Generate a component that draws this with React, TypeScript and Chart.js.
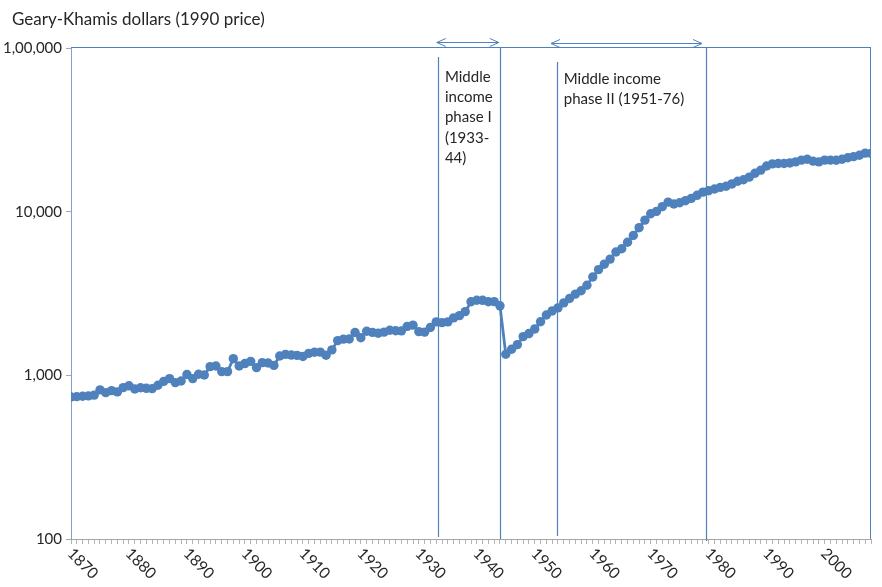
import React, { useEffect, useRef } from 'react';
import { Chart, registerables } from 'chart.js';

Chart.register(...registerables);

const years: number[] = [
  1870, 1871, 1872, 1873, 1874, 1875, 1876, 1877, 1878, 1879,
  1880, 1881, 1882, 1883, 1884, 1885, 1886, 1887, 1888, 1889,
  1890, 1891, 1892, 1893, 1894, 1895, 1896, 1897, 1898, 1899,
  1900, 1901, 1902, 1903, 1904, 1905, 1906, 1907, 1908, 1909,
  1910, 1911, 1912, 1913, 1914, 1915, 1916, 1917, 1918, 1919,
  1920, 1921, 1922, 1923, 1924, 1925, 1926, 1927, 1928, 1929,
  1930, 1931, 1932, 1933, 1934, 1935, 1936, 1937, 1938, 1939,
  1940, 1941, 1942, 1943, 1944, 1945, 1946, 1947, 1948, 1949,
  1950, 1951, 1952, 1953, 1954, 1955, 1956, 1957, 1958, 1959,
  1960, 1961, 1962, 1963, 1964, 1965, 1966, 1967, 1968, 1969,
  1970, 1971, 1972, 1973, 1974, 1975, 1976, 1977, 1978, 1979,
  1980, 1981, 1982, 1983, 1984, 1985, 1986, 1987, 1988, 1989,
  1990, 1991, 1992, 1993, 1994, 1995, 1996, 1997, 1998, 1999,
  2000, 2001, 2002, 2003, 2004, 2005, 2006, 2007, 2008,
];

const gdpPerCapita: number[] = [
  737, 741, 745, 749, 757, 815, 784, 806, 792, 841,
  863, 825, 840, 833, 830, 870, 919, 955, 903, 924,
  1012, 955, 1015, 1005, 1130, 1140, 1054, 1054, 1264, 1140,
  1180, 1217, 1115, 1195, 1190, 1150, 1312, 1343, 1330, 1325,
  1304, 1362, 1384, 1387, 1327, 1430, 1630, 1665, 1668, 1827,
  1696, 1860, 1831, 1809, 1836, 1885, 1872, 1870, 1992, 2026,
  1850, 1837, 1962, 2122, 2098, 2120, 2244, 2315, 2449, 2816,
  2874, 2873, 2818, 2822, 2659, 1346, 1444, 1541, 1725, 1800,
  1921, 2126, 2336, 2474, 2582, 2771, 2948, 3136, 3289, 3554,
  3986, 4426, 4777, 5129, 5668, 5934, 6506, 7152, 7983, 8874,
  9714, 10040, 10734, 11434, 11145, 11344, 11669, 12064, 12585, 13163,
  13428, 13754, 14078, 14307, 14773, 15331, 15679, 16251, 17185, 17943,
  19000, 19600, 19700, 19700, 19850, 20150, 20650, 20900, 20350, 20150,
  20650, 20650, 20600, 20900, 21350, 21700, 22100, 22800, 22700,
];

const xLabelYears: number[] = [1870, 1880, 1890, 1900, 1910, 1920, 1930, 1940, 1950, 1960, 1970, 1980, 1990, 2000];
const xLabelTexts: string[] = ['1870', '1880', '1890', '1900', '1910', '1920', '1930', '1940', '1950', '1960', '1970', '1980', '1990', '2000'];

const yTickValues: number[] = [100, 1000, 10000, 100000];
const yTickLabels: string[] = ['100', '1,000', '10,000', '1,00,000'];

const yAxisTitle = 'Geary-Khamis dollars (1990 price)';
const phaseOneText: string[] = ['Middle', 'income', 'phase I', '(1933-', '44)'];
const phaseTwoText: string[] = ['Middle income', 'phase II (1951-76)'];

const FONT = 'Lato, "Noto Sans", sans-serif';
const BLUE = '#4F81BD';
const TEXT = '#262626';

const overlayPlugin = {
  id: 'overlay',
  afterDatasetsDraw(chart: any) {
    const { ctx, chartArea: ca, scales } = chart;
    const x = scales.x;
    const px = (yr: number) => x.getPixelForValue(yr);
    ctx.save();

    // plot frame (top, right)
    ctx.strokeStyle = BLUE;
    ctx.lineWidth = 1;
    ctx.beginPath();
    ctx.moveTo(ca.left, ca.top - 0.5);
    ctx.lineTo(ca.right, ca.top - 0.5);
    ctx.moveTo(ca.right - 0.5, ca.top - 0.5);
    ctx.lineTo(ca.right - 0.5, ca.bottom);
    ctx.stroke();

    // phase vertical lines
    const vlines = [
      { yr: 1933.3, t: ca.top + 9, b: ca.bottom - 2 },
      { yr: 1944.0, t: ca.top - 1, b: ca.bottom },
      { yr: 1953.8, t: ca.top + 14, b: ca.bottom - 3 },
      { yr: 1979.5, t: ca.top - 1, b: ca.bottom + 2 },
    ];
    ctx.strokeStyle = BLUE;
    ctx.lineWidth = 1.2;
    vlines.forEach((v) => {
      const xx = Math.round(px(v.yr)) + 0.5;
      ctx.beginPath();
      ctx.moveTo(xx, v.t);
      ctx.lineTo(xx, v.b);
      ctx.stroke();
    });

    // double-headed arrows
    const arrows = [
      { a: 1933.1, b: 1943.8, y: ca.top - 6 },
      { a: 1952.8, b: 1978.85, y: ca.top - 5 },
    ];
    ctx.lineWidth = 1;
    arrows.forEach((ar) => {
      const x1 = px(ar.a);
      const x2 = px(ar.b);
      const yy = ar.y + 0.5;
      ctx.beginPath();
      ctx.moveTo(x1, yy);
      ctx.lineTo(x2, yy);
      ctx.moveTo(x1 + 9, yy - 4);
      ctx.lineTo(x1, yy);
      ctx.lineTo(x1 + 9, yy + 4);
      ctx.moveTo(x2 - 9, yy - 4);
      ctx.lineTo(x2, yy);
      ctx.lineTo(x2 - 9, yy + 4);
      ctx.stroke();
    });

    // annotation texts
    ctx.fillStyle = TEXT;
    ctx.font = `15px ${FONT}`;
    ctx.textAlign = 'left';
    ctx.textBaseline = 'alphabetic';
    phaseOneText.forEach((s, i) => ctx.fillText(s, px(1934.5), 82 + i * 20.2));
    phaseTwoText.forEach((s, i) => ctx.fillText(s, px(1955.0), 84 + i * 20));

    // x axis labels, rotated
    ctx.font = `15.5px ${FONT}`;
    ctx.textBaseline = 'middle';
    xLabelYears.forEach((yr, i) => {
      ctx.save();
      ctx.translate(px(yr) - 1, ca.bottom + 12);
      ctx.rotate(Math.PI / 4);
      ctx.fillText(xLabelTexts[i], 0, 0);
      ctx.restore();
    });

    // y axis title
    ctx.font = `17px ${FONT}`;
    ctx.textBaseline = 'alphabetic';
    ctx.fillText(yAxisTitle, 12, 25);

    ctx.restore();
  },
};

export default function App() {
  const canvasRef = useRef<HTMLCanvasElement | null>(null);

  useEffect(() => {
    document.body.style.margin = '0';
    document.body.style.overflow = 'hidden';
    const canvas = canvasRef.current;
    if (!canvas) return;
    const chart = new Chart(canvas, {
      type: 'line',
      data: {
        labels: years,
        datasets: [
          {
            data: gdpPerCapita,
            borderColor: BLUE,
            backgroundColor: BLUE,
            borderWidth: 2.8,
            pointRadius: 4.7,
            pointBackgroundColor: BLUE,
            pointBorderColor: BLUE,
            pointBorderWidth: 0,
            tension: 0,
          },
        ],
      },
      options: {
        responsive: false,
        animation: false,
        layout: { padding: { top: 48, right: 11, left: 0, bottom: 0 } },
        plugins: {
          legend: { display: false },
          tooltip: { enabled: false },
          title: { display: false },
        },
        scales: {
          x: {
            type: 'linear',
            min: 1870,
            max: 2008,
            ticks: { stepSize: 1, display: false, autoSkip: false },
            grid: {
              drawOnChartArea: false,
              drawTicks: true,
              tickLength: 5,
              color: '#b4b4b4',
            },
            border: { display: true, color: '#a6a6a6', width: 1 },
            afterFit: (s: any) => {
              s.height = 48;
            },
          },
          y: {
            type: 'logarithmic',
            min: 100,
            max: 100000,
            afterBuildTicks: (s: any) => {
              s.ticks = yTickValues.map((v) => ({ value: v }));
            },
            ticks: {
              padding: 4,
              color: TEXT,
              font: { family: FONT, size: 15 },
              callback: (v: any) => {
                const i = yTickValues.indexOf(Number(v));
                return i >= 0 ? yTickLabels[i] : '';
              },
            },
            grid: {
              drawOnChartArea: false,
              drawTicks: true,
              tickLength: 5,
              color: '#a6a6a6',
            },
            border: { display: true, color: '#7f9fcf', width: 1 },
            afterFit: (s: any) => {
              s.width = 71;
            },
          },
        },
      },
      plugins: [overlayPlugin],
    });
    return () => chart.destroy();
  }, []);

  return (
    <div style={{ width: 882, height: 587 }}>
      <canvas ref={canvasRef} width={882} height={587} style={{ display: 'block' }} />
    </div>
  );
}
